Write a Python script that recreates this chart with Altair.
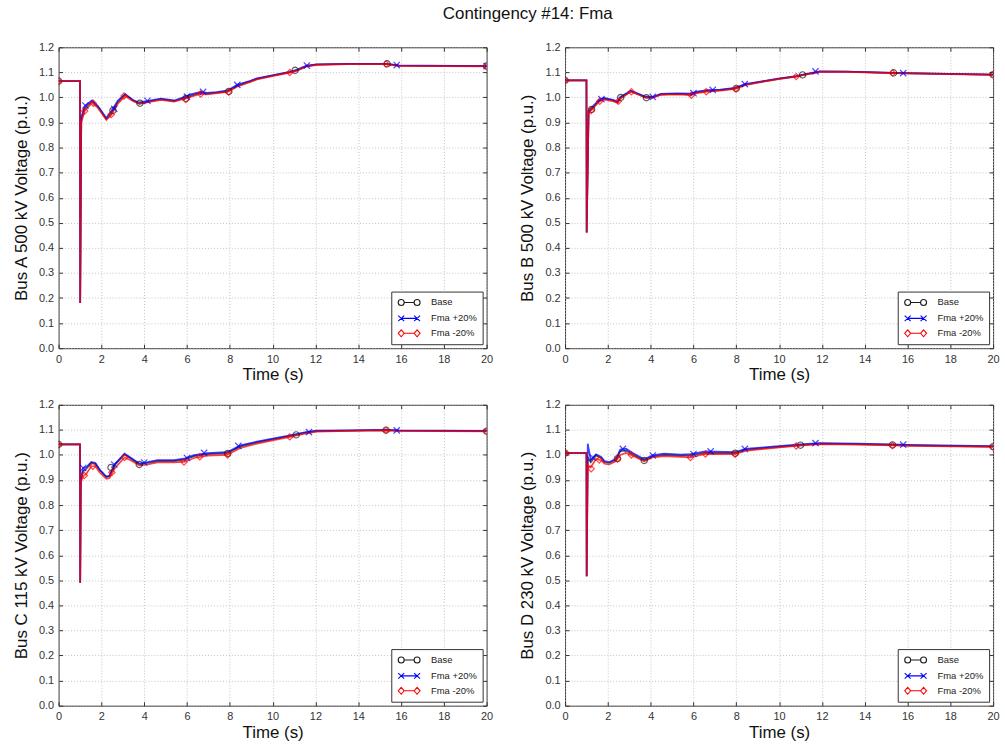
import altair as alt
import pandas as pd

SERIES = ["Base", "Fma +20%", "Fma -20%"]
COLORS = ["#1a1a1a", "#0000ff", "#ff0000"]
X_TICKS = [0, 2, 4, 6, 8, 10, 12, 14, 16, 18, 20]
Y_TICKS = [0.0, 0.1, 0.2, 0.3, 0.4, 0.5, 0.6, 0.7, 0.8, 0.9, 1.0, 1.1, 1.2]
TITLE = "Contingency #14: Fma"
Y_TITLES = ["Bus A 500 kV Voltage (p.u.)", "Bus B 500 kV Voltage (p.u.)",
            "Bus C 115 kV Voltage (p.u.)", "Bus D 230 kV Voltage (p.u.)"]

# ---------------- Panel A ----------------
A_T = [0, 1.0, 1.01, 1.06, 1.22, 1.56, 1.84, 2.23, 2.46, 2.77, 3.11, 3.47, 3.77, 4.32, 4.78,
       5.4, 5.86, 6.17, 6.64, 6.95, 7.4, 7.9, 8.34, 8.96, 9.27, 10.04, 10.81, 11.12, 11.59,
       12.05, 13.6, 15.3, 15.9, 20]
A_BASE = [1.065, 1.065, 0.18, 0.91, 0.956, 0.985, 0.962, 0.914, 0.936, 0.982, 1.011, 0.989,
          0.975, 0.985, 0.993, 0.985, 0.998, 1.006, 1.019, 1.015, 1.019, 1.024, 1.046, 1.064,
          1.074, 1.088, 1.101, 1.108, 1.125, 1.131, 1.134, 1.134, 1.127, 1.125]
A_UP = [1.065, 1.065, 0.18, 0.92, 0.965, 0.988, 0.966, 0.918, 0.945, 0.988, 1.013, 0.99,
        0.98, 0.988, 0.995, 0.988, 1.002, 1.012, 1.022, 1.018, 1.021, 1.028, 1.05, 1.066,
        1.076, 1.089, 1.102, 1.11, 1.127, 1.132, 1.134, 1.134, 1.128, 1.125]
A_DN = [1.065, 1.065, 0.18, 0.90, 0.946, 0.978, 0.958, 0.91, 0.93, 0.975, 1.006, 0.986,
        0.974, 0.983, 0.99, 0.983, 0.994, 1.002, 1.015, 1.012, 1.017, 1.022, 1.043, 1.062,
        1.072, 1.086, 1.099, 1.106, 1.123, 1.13, 1.133, 1.133, 1.126, 1.124]
A_MB_T = [0, 2.54, 3.8, 5.95, 7.95, 11.05, 15.35, 20]
A_MB_V = [1.065, 0.948, 0.977, 0.996, 1.024, 1.108, 1.134, 1.125]
A_MU_T = [1.25, 2.6, 4.15, 6.0, 6.75, 8.35, 11.6, 15.8, 20]
A_MU_V = [0.968, 0.955, 0.987, 1.003, 1.022, 1.05, 1.127, 1.129, 1.125]
A_MD_T = [0, 1.22, 1.62, 2.46, 3.06, 5.94, 6.64, 7.95, 10.8, 15.3, 20]
A_MD_V = [1.065, 0.946, 0.977, 0.932, 1.006, 0.992, 1.014, 1.022, 1.099, 1.133, 1.124]

# ---------------- Panel B ----------------
B_T = [0, 1.0, 1.01, 1.1, 1.22, 1.6, 1.84, 2.23, 2.46, 2.58, 3.08, 3.46, 3.77, 4.08, 4.47,
       5.24, 5.86, 6.17, 6.64, 7.25, 7.95, 8.41, 9.27, 10.04, 10.81, 11.12, 11.9, 13.13,
       15.3, 15.8, 20]
B_BASE = [1.068, 1.068, 0.461, 0.943, 0.952, 0.988, 0.995, 0.988, 0.981, 0.998, 1.025, 1.012,
          1.0, 1.0, 1.012, 1.014, 1.012, 1.02, 1.026, 1.029, 1.036, 1.051, 1.064, 1.075, 1.084,
          1.09, 1.103, 1.103, 1.098, 1.097, 1.091]
B_UP = [1.068, 1.068, 0.461, 0.948, 0.958, 0.992, 0.998, 0.99, 0.984, 1.002, 1.027, 1.014,
        1.003, 1.002, 1.014, 1.016, 1.015, 1.023, 1.029, 1.031, 1.038, 1.053, 1.065, 1.076,
        1.085, 1.091, 1.104, 1.103, 1.098, 1.097, 1.091]
B_DN = [1.068, 1.068, 0.461, 0.938, 0.948, 0.984, 0.991, 0.985, 0.978, 0.995, 1.023, 1.01,
        0.998, 0.998, 1.01, 1.012, 1.009, 1.017, 1.023, 1.027, 1.034, 1.049, 1.063, 1.074,
        1.083, 1.089, 1.102, 1.102, 1.097, 1.096, 1.09]
B_MB_T = [0, 1.24, 2.6, 3.8, 8.0, 11.1, 15.35, 20]
B_MB_V = [1.068, 0.952, 1.0, 0.999, 1.036, 1.09, 1.098, 1.091]
B_MU_T = [1.7, 4.1, 6.0, 6.9, 8.4, 11.7, 15.8]
B_MU_V = [0.993, 1.002, 1.017, 1.03, 1.053, 1.104, 1.097]
B_MD_T = [0, 1.22, 1.62, 2.49, 3.1, 5.9, 6.6, 7.98, 10.8, 15.3, 20]
B_MD_V = [1.068, 0.948, 0.985, 0.985, 1.023, 1.009, 1.023, 1.034, 1.083, 1.097, 1.09]

# ---------------- Panel C ----------------
C_T = [0, 1.0, 1.01, 1.04, 1.15, 1.3, 1.53, 1.72, 1.92, 2.23, 2.38, 2.61, 3.08, 3.39, 3.77,
       4.16, 4.62, 5.4, 5.86, 6.33, 6.95, 7.87, 8.5, 9.27, 9.88, 10.81, 11.5, 12.05, 13.6,
       15.3, 15.9, 20]
C_BASE = [1.042, 1.042, 0.49, 0.899, 0.935, 0.945, 0.968, 0.965, 0.939, 0.912, 0.915, 0.958,
          1.002, 0.985, 0.962, 0.968, 0.975, 0.975, 0.981, 0.995, 1.003, 1.007, 1.034, 1.05,
          1.06, 1.075, 1.088, 1.095, 1.097, 1.099, 1.097, 1.095]
C_UP = [1.042, 1.042, 0.49, 0.91, 0.948, 0.952, 0.972, 0.968, 0.942, 0.914, 0.918, 0.962,
        1.005, 0.988, 0.966, 0.972, 0.979, 0.979, 0.985, 0.999, 1.007, 1.011, 1.038, 1.053,
        1.063, 1.078, 1.09, 1.097, 1.098, 1.1, 1.098, 1.096]
C_DN = [1.042, 1.042, 0.49, 0.89, 0.915, 0.925, 0.955, 0.955, 0.93, 0.905, 0.908, 0.945,
        0.99, 0.978, 0.958, 0.962, 0.97, 0.97, 0.972, 0.988, 0.997, 1.0, 1.028, 1.045,
        1.056, 1.072, 1.085, 1.093, 1.096, 1.098, 1.096, 1.094]
C_MB_T = [0, 2.45, 3.77, 7.9, 11.1, 15.3, 20]
C_MB_V = [1.042, 0.95, 0.962, 1.006, 1.08, 1.099, 1.095]
C_MU_T = [1.15, 2.6, 4.0, 6.0, 6.8, 8.4, 11.7, 15.8]
C_MU_V = [0.948, 0.962, 0.97, 0.988, 1.008, 1.036, 1.091, 1.098]
C_MD_T = [0, 1.2, 1.6, 2.49, 3.08, 5.86, 6.6, 7.9, 10.8, 15.3, 20]
C_MD_V = [1.042, 0.918, 0.955, 0.93, 0.99, 0.972, 0.993, 1.0, 1.072, 1.098, 1.094]

# ---------------- Panel D ----------------
D_T = [0, 1.0, 1.01, 1.06, 1.2, 1.45, 1.69, 1.84, 2.07, 2.38, 2.58, 2.85, 3.16, 3.7, 4.08,
       4.62, 5.4, 5.86, 6.56, 7.95, 8.41, 9.42, 10.81, 11.9, 13.6, 15.3, 16, 20]
D_BASE = [1.007, 1.007, 0.516, 0.99, 0.971, 0.998, 0.987, 0.971, 0.968, 0.98, 1.015, 1.018,
          1.002, 0.978, 0.994, 1.0, 0.997, 0.998, 1.008, 1.007, 1.02, 1.028, 1.038, 1.045,
          1.043, 1.04, 1.038, 1.033]
D_UP = [1.007, 1.007, 0.516, 1.045, 0.98, 1.003, 0.992, 0.976, 0.972, 0.985, 1.022, 1.025,
        1.008, 0.983, 0.998, 1.005, 1.001, 1.003, 1.014, 1.011, 1.024, 1.031, 1.041, 1.047,
        1.045, 1.042, 1.04, 1.035]
D_DN = [1.007, 1.007, 0.516, 0.96, 0.95, 0.985, 0.978, 0.965, 0.962, 0.975, 1.0, 1.008,
        0.997, 0.975, 0.99, 0.995, 0.992, 0.99, 1.004, 1.003, 1.016, 1.025, 1.036, 1.043,
        1.041, 1.038, 1.036, 1.032]
D_MB_T = [0, 2.45, 3.7, 7.95, 11.0, 15.3, 20]
D_MB_V = [1.007, 0.985, 0.978, 1.007, 1.039, 1.04, 1.033]
D_MU_T = [1.3, 2.7, 4.1, 6.0, 6.8, 8.4, 11.7, 15.8]
D_MU_V = [0.99, 1.024, 0.998, 1.004, 1.014, 1.024, 1.047, 1.041]
D_MD_T = [0, 1.22, 1.6, 2.45, 3.1, 5.86, 6.56, 7.95, 10.8, 15.3, 20]
D_MD_V = [1.007, 0.945, 0.98, 0.985, 1.0, 0.99, 1.004, 1.003, 1.036, 1.038, 1.032]

PANELS = [
    (A_T, A_BASE, A_UP, A_DN, (A_MB_T, A_MB_V), (A_MU_T, A_MU_V), (A_MD_T, A_MD_V)),
    (B_T, B_BASE, B_UP, B_DN, (B_MB_T, B_MB_V), (B_MU_T, B_MU_V), (B_MD_T, B_MD_V)),
    (C_T, C_BASE, C_UP, C_DN, (C_MB_T, C_MB_V), (C_MU_T, C_MU_V), (C_MD_T, C_MD_V)),
    (D_T, D_BASE, D_UP, D_DN, (D_MB_T, D_MB_V), (D_MU_T, D_MU_V), (D_MD_T, D_MD_V)),
]

# legend symbols (matlab-like "o-o", "x-x", "<>-<>")
LEG_PATHS = [
    "M-2.2,0A0.6,0.6,0,1,0,-1.0,0A0.6,0.6,0,1,0,-2.2,0ZM-1.0,0L1.0,0M1.0,0A0.6,0.6,0,1,0,2.2,0A0.6,0.6,0,1,0,1.0,0Z",
    "M-2.2,-0.55L-1.0,0.55M-2.2,0.55L-1.0,-0.55M-1.6,0L1.6,0M1.0,-0.55L2.2,0.55M1.0,0.55L2.2,-0.55",
    "M-2.2,0L-1.6,-0.7L-1.0,0L-1.6,0.7ZM-1.0,0L1.0,0M1.0,0L1.6,-0.7L2.2,0L1.6,0.7Z",
]
MARK_SHAPES = ["circle", "M-1,-1L1,1M-1,1L1,-1", "diamond"]

W, H = 431, 303
GRID = dict(gridColor="#b5b5b5", gridDash=[1, 2], gridWidth=0.8)
xs = alt.Scale(domain=[0, 20], nice=False)
ys = alt.Scale(domain=[0, 1.2], nice=False, zero=False)


def tick_axis(orient, values):
    return alt.Axis(orient=orient, offset=-4, tickSize=4, tickColor="#333", tickWidth=1,
                    labels=False, domain=False, grid=False, title=None, values=values)


def panel(idx):
    t, base, up, dn, mb, mu, md = PANELS[idx]
    rows = []
    for s, vals in zip(SERIES, [base, up, dn]):
        for k, (tt, vv) in enumerate(zip(t, vals)):
            rows.append({"t": tt, "v": vv, "series": s, "k": k})
    ldf = pd.DataFrame(rows)
    mrows = []
    for s, (mt, mv) in zip(SERIES, [mb, mu, md]):
        for tt, vv in zip(mt, mv):
            mrows.append({"t": tt, "v": vv, "series": s})
    mdf = pd.DataFrame(mrows)

    lines = alt.Chart(ldf).mark_line(strokeWidth=1.7, opacity=0.75, clip=True).encode(
        x=alt.X("t:Q", scale=xs, axis=alt.Axis(
            orient="bottom", values=X_TICKS, format="d", title="Time (s)", ticks=False,
            domain=False, labelPadding=5, titlePadding=3, labelFontSize=11,
            labelFlush=False, titleFontSize=17, titleFontWeight="normal",
            labelColor="#333", titleColor="#111", **GRID)),
        y=alt.Y("v:Q", scale=ys, axis=alt.Axis(
            orient="left", values=Y_TICKS, format=".1f", title=Y_TITLES[idx], ticks=False,
            domain=False, labelPadding=5, titlePadding=8, labelFontSize=11,
            titleFontSize=17, titleFontWeight="normal",
            labelColor="#333", titleColor="#111", **GRID)),
        color=alt.Color("series:N", scale=alt.Scale(domain=SERIES, range=COLORS), legend=None),
        detail="series:N",
        order="k:Q",
    )

    marks = []
    for s, c, sh in zip(SERIES, COLORS, MARK_SHAPES):
        marks.append(
            alt.Chart(mdf).transform_filter(alt.datum.series == s)
            .mark_point(shape=sh, filled=False, color=c, size=40, strokeWidth=1.2, clip=True)
            .encode(x=alt.X("t:Q", scale=xs, axis=None), y=alt.Y("v:Q", scale=ys, axis=None))
        )

    legend_df = pd.DataFrame({"series": SERIES})
    leg_props = dict(title=None, orient="bottom-right", offset=4, padding=5,
                     strokeColor="#333", fillColor="white", labelFontSize=9.5,
                     labelColor="#222", symbolSize=100, symbolStrokeWidth=1.1,
                     symbolOpacity=1, symbolOffset=7, labelOffset=16, rowPadding=4,
                     cornerRadius=0)
    leg = alt.Chart(legend_df).mark_point(filled=False, opacity=0).encode(
        color=alt.Color("series:N", scale=alt.Scale(domain=SERIES, range=COLORS),
                        legend=alt.Legend(**leg_props)),
        shape=alt.Shape("series:N", scale=alt.Scale(domain=SERIES, range=LEG_PATHS),
                        legend=alt.Legend(**leg_props)),
    )

    ticks1 = alt.Chart(mdf).mark_point(opacity=0).encode(
        x=alt.X("t:Q", scale=xs, axis=tick_axis("top", X_TICKS)),
        y=alt.Y("v:Q", scale=ys, axis=tick_axis("right", Y_TICKS)),
    )
    ticks2 = alt.Chart(mdf).mark_point(opacity=0).encode(
        x=alt.X("t:Q", scale=xs, axis=tick_axis("bottom", X_TICKS)),
        y=alt.Y("v:Q", scale=ys, axis=tick_axis("left", Y_TICKS)),
    )

    return alt.layer(lines, *marks, leg, ticks1, ticks2).resolve_axis(
        x="independent", y="independent"
    ).resolve_scale(shape="independent", color="independent").properties(width=W, height=H)


chart = alt.concat(
    panel(0), panel(1), panel(2), panel(3),
    columns=2, spacing={"row": 57, "column": 79}, bounds="flush",
).properties(
    title=alt.TitleParams(TITLE, fontSize=17, fontWeight="normal", anchor="middle",
                          offset=18, color="#111", dx=22),
    padding={"left": 12, "top": 2, "right": 5, "bottom": 5},
).configure(
    font="Liberation Sans",
).configure_view(
    stroke="#333", strokeWidth=1,
)

chart.save("out.html", embed_options={"renderer": "svg", "actions": False})
